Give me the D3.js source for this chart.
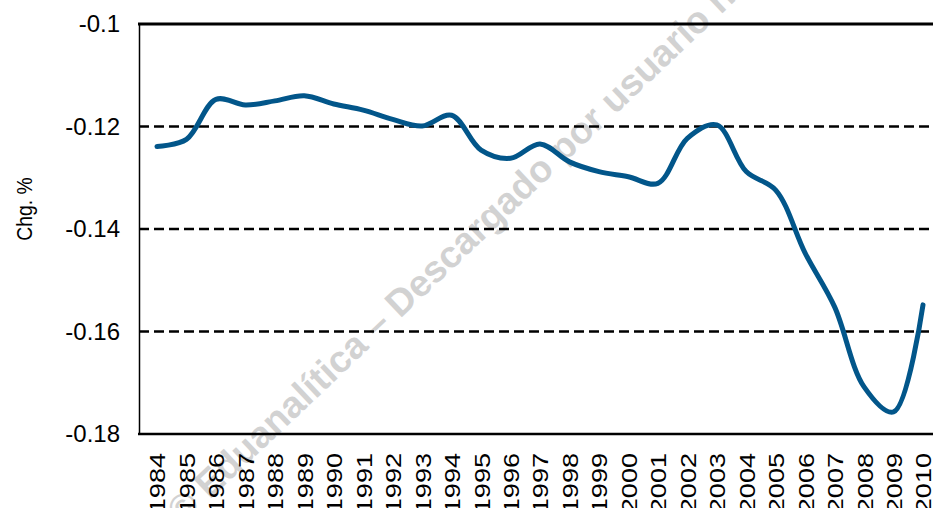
<!DOCTYPE html>
<html>
<head>
	<meta charset="utf-8">
	<title>Chg. % by year</title>
	<script src="https://d3js.org/d3.v7.min.js"></script>
	<style>
		body { margin: 0; background: #fff; }
		text { font-family: "Liberation Sans", Arial, sans-serif; fill: #000; }
		.grid line { stroke: #000; stroke-width: 2.5; stroke-dasharray: 10,5; }
	</style>
</head>
<body>
	<div id="plot"></div>
	<script type="text/javascript">
		// data
		var years = [1984, 1985, 1986, 1987, 1988, 1989, 1990, 1991, 1992, 1993, 1994, 1995, 1996,
			1997, 1998, 1999, 2000, 2001, 2002, 2003, 2004, 2005, 2006, 2007, 2008, 2009, 2010];
		var chg = [-0.1239, -0.1225, -0.1147, -0.1158, -0.1150, -0.1140, -0.1156, -0.1168, -0.1186,
			-0.1199, -0.1178, -0.1246, -0.1262, -0.1234, -0.1269, -0.1288, -0.1298, -0.1311, -0.1223,
			-0.1197, -0.1288, -0.1324, -0.1447, -0.1552, -0.1708, -0.1757, -0.1548];
		var yTicks = [-0.18, -0.16, -0.14, -0.12, -0.1];
		var gridTicks = [-0.16, -0.14, -0.12];
		var yTitle = "Chg. %";
		var watermark = "\u00a9 Eduanal\u00edtica \u2013 Descargado por usuario n";

		var w = 933, h = 508;
		var padL = 139, padR = 933, padT = 24, padB = 434; // plot box edges

		var svg = d3.select("#plot").append("svg")
			.attr("width", w)
			.attr("height", h);

		// scales
		var x = d3.scalePoint()
			.domain(years)
			.range([157, 923]);

		var y = d3.scaleLinear()
			.domain([-0.18, -0.1])
			.range([padB, padT]);

		// watermark behind everything
		svg.append("text")
			.attr("transform", "translate(182,526) rotate(-43.5)")
			.style("font-size", "37.5px")
			.style("font-weight", "bold")
			.style("fill", "#d2d2d2")
			.text(watermark);

		// dashed grid
		svg.append("g")
			.attr("class", "grid")
			.selectAll("line")
			.data(gridTicks)
			.enter().append("line")
			.attr("x1", padL)
			.attr("x2", padR)
			.attr("y1", function(d) { return y(d); })
			.attr("y2", function(d) { return y(d); });

		// frame: thick top and bottom, thin left
		svg.append("line")
			.attr("x1", padL - 1).attr("x2", padR)
			.attr("y1", y(-0.1)).attr("y2", y(-0.1))
			.attr("stroke", "#000").attr("stroke-width", 3);
		svg.append("line")
			.attr("x1", padL - 1).attr("x2", padR)
			.attr("y1", y(-0.18)).attr("y2", y(-0.18))
			.attr("stroke", "#000").attr("stroke-width", 2.5);

		// y axis
		var yAxis = d3.axisLeft(y)
			.tickValues(yTicks)
			.tickSize(0)
			.tickPadding(19)
			.tickFormat(function(d) { return String(+d.toFixed(2)); });

		var gy = svg.append("g")
			.attr("transform", "translate(" + padL + ",0)")
			.call(yAxis);
		gy.select(".domain").attr("stroke", "#000").attr("stroke-width", 1.5);
		gy.selectAll("text").style("font-size", "24px");

		// x axis labels, rotated
		var xAxis = d3.axisBottom(x).tickSize(0).tickPadding(0);
		var gx = svg.append("g")
			.attr("transform", "translate(0," + padB + ")")
			.call(xAxis);
		gx.select(".domain").remove();
		gx.selectAll("text")
			.style("font-size", "22px")
			.attr("text-anchor", "end")
			.attr("y", 0)
			.attr("dy", "0.36em")
			.attr("transform", "translate(0,19) rotate(-90) scale(1.23,1)");

		// the axis group sets its own font, drop it so the css font applies
		gy.attr("font-family", null).attr("font-size", null);
		gx.attr("font-family", null).attr("font-size", null);

		// y title
		svg.append("text")
			.attr("transform", "translate(24,209) rotate(-90) scale(0.88,1)")
			.attr("text-anchor", "middle")
			.attr("dy", "0.35em")
			.style("font-size", "22px")
			.text(yTitle);

		// smoothed line
		var line = d3.line()
			.x(function(d, i) { return x(years[i]); })
			.y(function(d) { return y(d); })
			.curve(d3.curveCatmullRom.alpha(0.5));

		svg.append("path")
			.datum(chg)
			.attr("fill", "none")
			.attr("stroke", "#02568a")
			.attr("stroke-width", 5)
			.attr("stroke-linecap", "round")
			.attr("d", line);
	</script>
</body>
</html>
